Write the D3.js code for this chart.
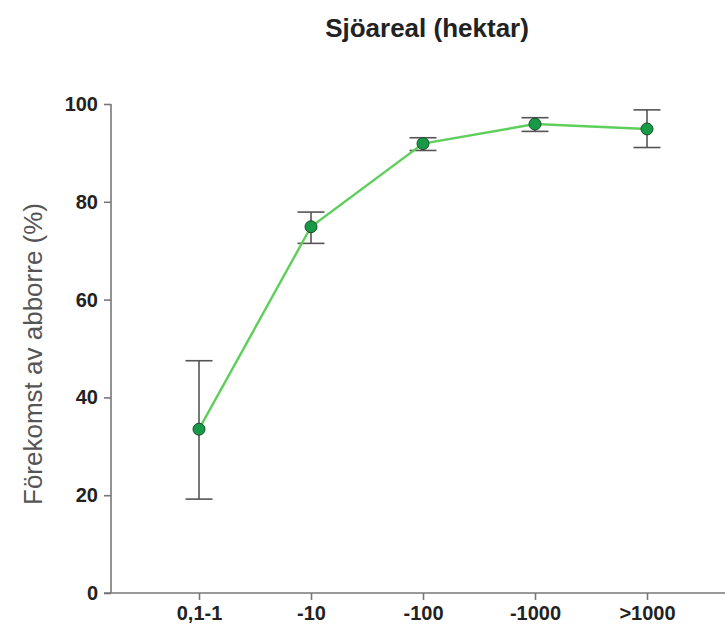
<!DOCTYPE html>
<html>
<head>
<meta charset="utf-8">
<script src="https://cdn.jsdelivr.net/npm/d3@7"></script>
<style>
  body { margin: 0; background: #fff; }
  svg { display: block; font-family: "Liberation Sans", Arial, sans-serif; }
</style>
</head>
<body>
<div id="chart"></div>
<script>
const categories = ['0,1-1', '-10', '-100', '-1000', '>1000'];
const means = [33.5, 74.9, 91.9, 95.9, 94.9];
const upper = [47.5, 77.9, 93.1, 97.2, 98.8];
const lower = [19.2, 71.5, 90.5, 94.4, 91.1];
const yTicks = [0, 20, 40, 60, 80, 100];

const width = 725, height = 630;
const axisX = 111, axisBottom = 593, axisTop = 104;

const svg = d3.select('#chart').append('svg')
  .attr('width', width)
  .attr('height', height);

const x = d3.scalePoint().domain(categories).range([199, 647]);
const y = d3.scaleLinear().domain([0, 100]).range([axisBottom, axisTop]);

// title
svg.append('text')
  .attr('x', 427).attr('y', 37)
  .attr('text-anchor', 'middle')
  .attr('font-size', 26).attr('font-weight', 'bold')
  .attr('fill', '#222')
  .text('Sjöareal (hektar)');

// y label
svg.append('text')
  .attr('transform', `translate(42, 354) rotate(-90)`)
  .attr('text-anchor', 'middle')
  .attr('font-size', 26)
  .attr('fill', '#555')
  .text('Förekomst av abborre (%)');

// y axis
const yAxis = svg.append('g')
  .attr('transform', `translate(${axisX},0)`)
  .call(d3.axisLeft(y).tickValues(yTicks).tickSize(7).tickSizeOuter(0).tickPadding(6));
yAxis.select('.domain').attr('stroke', '#777').attr('stroke-width', 1.6)
  .attr('d', `M0,${axisTop}V${axisBottom}`);
yAxis.selectAll('.tick line').attr('stroke', '#777').attr('stroke-width', 1.6);
yAxis.selectAll('.tick text').attr('font-size', 20).attr('font-weight', 'bold')
  .attr('fill', '#222').attr('font-family', '"Liberation Sans", Arial, sans-serif');

// x axis
const xAxis = svg.append('g')
  .attr('transform', `translate(0,${axisBottom})`)
  .call(d3.axisBottom(x).tickSize(7).tickSizeOuter(0).tickPadding(6));
xAxis.select('.domain').attr('stroke', '#777').attr('stroke-width', 1.6)
  .attr('d', `M${axisX - 7},0H${width}`);
xAxis.selectAll('.tick line').attr('stroke', '#777').attr('stroke-width', 1.6);
xAxis.selectAll('.tick text').attr('font-size', 20).attr('font-weight', 'bold')
  .attr('fill', '#222').attr('font-family', '"Liberation Sans", Arial, sans-serif');

// error bars
const capW = 13.5;
const err = svg.append('g').selectAll('g')
  .data(categories)
  .enter().append('g')
  .attr('stroke', '#555').attr('stroke-width', 1.6);
err.append('line')
  .attr('x1', d => x(d)).attr('x2', d => x(d))
  .attr('y1', (d, i) => y(upper[i])).attr('y2', (d, i) => y(lower[i]));
err.append('line')
  .attr('x1', d => x(d) - capW).attr('x2', d => x(d) + capW)
  .attr('y1', (d, i) => y(upper[i])).attr('y2', (d, i) => y(upper[i]));
err.append('line')
  .attr('x1', d => x(d) - capW).attr('x2', d => x(d) + capW)
  .attr('y1', (d, i) => y(lower[i])).attr('y2', (d, i) => y(lower[i]));

// line
const line = d3.line()
  .x((d, i) => x(categories[i]))
  .y(d => y(d));
svg.append('path')
  .datum(means)
  .attr('d', line)
  .attr('fill', 'none')
  .attr('stroke', '#5fcf5c')
  .attr('stroke-width', 2.4);

// points
svg.append('g').selectAll('circle')
  .data(means)
  .enter().append('circle')
  .attr('cx', (d, i) => x(categories[i]))
  .attr('cy', d => y(d))
  .attr('r', 6)
  .attr('fill', '#179a48')
  .attr('stroke', '#1e4a2a')
  .attr('stroke-width', 1);
</script>
</body>
</html>
